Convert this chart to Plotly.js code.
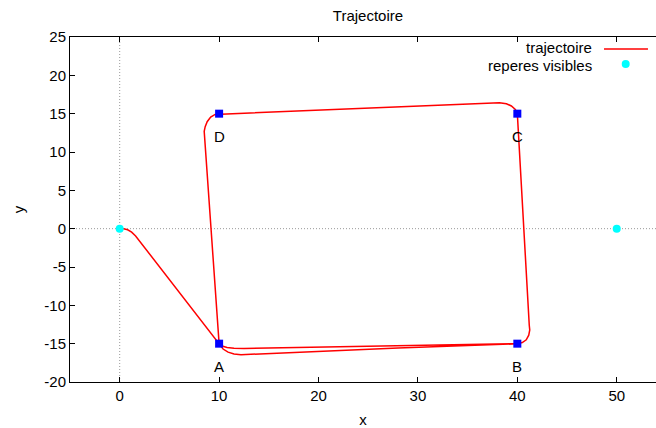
<!DOCTYPE html>
<html>
<head>
<meta charset="utf-8">
<script src="https://cdn.plot.ly/plotly-3.0.1.min.js"></script>
<style>html,body{margin:0;padding:0;background:#fff;}#chart{width:656px;height:428px;}</style>
</head>
<body>
<div id="chart"></div>
<script>
// Trajectory
const trajX = [0, 0.4, 0.8, 1.2, 1.6, 10.0, 10.4, 10.9, 11.5, 12.2, 28.0, 40.0,
  40.5, 40.9, 41.15, 41.25, 41.2, 40.0, 39.8, 39.4, 38.9, 38.2, 10.0,
  9.6, 9.15, 8.8, 8.6, 8.5, 10.0, 10.3, 10.8, 11.5, 12.5, 28.0, 40.0];
const trajY = [0, -0.02, -0.15, -0.45, -0.95, -15.0, -15.7, -16.1, -16.35, -16.45, -15.55, -15.02,
  -14.85, -14.5, -13.9, -13.2, -12.6, 15.0, 15.55, 16.0, 16.3, 16.42, 15.0,
  14.9, 14.55, 13.95, 13.3, 12.7, -15.0, -15.3, -15.5, -15.6, -15.62, -15.3, -15.0];

// Waypoints
const pointX = [10, 40, 40, 10];
const pointY = [-15, -15, 15, 15];
const pointLabels = ['A', 'B', 'C', 'D'];

// Visible landmarks
const repereX = [0, 50];
const repereY = [0, 0];

// Ticks
const xTicks = [0, 10, 20, 30, 40, 50];
const yTicks = [-20, -15, -10, -5, 0, 5, 10, 15, 20, 25];

const seriesNames = ['trajectoire', 'reperes visibles'];

const FONT = 'Liberation Sans, Arial, Helvetica, sans-serif';

const traces = [
  {x: trajX, y: trajY, mode: 'lines', type: 'scatter', name: seriesNames[0],
   line: {color: '#ff0000', width: 1.5}, showlegend: false, hoverinfo: 'skip'},
  {x: repereX, y: repereY, mode: 'markers', type: 'scatter', name: seriesNames[1],
   marker: {color: '#00ffff', size: 8, symbol: 'circle'}, showlegend: false},
  {x: pointX, y: pointY, mode: 'markers', type: 'scatter', name: 'points',
   marker: {color: '#0000ff', size: 8, symbol: 'square'}, showlegend: false}
];

const annotations = pointLabels.map((t, i) => ({
  x: pointX[i], y: pointY[i], xref: 'x', yref: 'y', text: t, showarrow: false,
  yshift: -23, font: {family: FONT, size: 15, color: '#000'}
}));

// custom legend (text right-aligned, sample on the right, as in the reference)
annotations.push({xref: 'paper', yref: 'paper', x: 0.8942, y: (382 - 48) / 345, xanchor: 'right', yanchor: 'middle',
  text: seriesNames[0], showarrow: false, font: {family: FONT, size: 15, color: '#000'}});
annotations.push({xref: 'paper', yref: 'paper', x: 0.8942, y: (382 - 65) / 345, xanchor: 'right', yanchor: 'middle',
  text: seriesNames[1], showarrow: false, font: {family: FONT, size: 15, color: '#000'}});

const shapes = [
  {type: 'line', xref: 'x', yref: 'paper', x0: 0, x1: 0, y0: 0, y1: 1,
   line: {color: '#999999', width: 1, dash: '1px,2px'}, layer: 'below'},
  {type: 'line', xref: 'paper', yref: 'y', x0: 0, x1: 1, y0: 0, y1: 0,
   line: {color: '#999999', width: 1, dash: '1px,2px'}, layer: 'below'},
  {type: 'line', xref: 'paper', yref: 'paper', x0: 0.9113, x1: 0.9863, y0: 0.9652, y1: 0.9652,
   line: {color: '#ff0000', width: 1.5}},
  {type: 'circle', xref: 'paper', yref: 'paper', x0: 0.9415, x1: 0.9551, y0: 0.9101, y1: 0.9333,
   fillcolor: '#00ffff', line: {color: '#00ffff', width: 0}}
];

const layout = {
  width: 656, height: 428,
  margin: {l: 70, r: 0, t: 37, b: 46, pad: 0},
  paper_bgcolor: '#ffffff', plot_bgcolor: '#ffffff',
  font: {family: FONT, size: 15, color: '#000'},
  showlegend: false,
  title: {text: 'Trajectoire', x: 0.5085, xref: 'paper', y: 1 - 16/428, yref: 'container',
          xanchor: 'center', yanchor: 'middle', font: {family: FONT, size: 15, color: '#000'}},
  xaxis: {range: [-5, 53.95], tickvals: xTicks, ticktext: xTicks.map(String),
          ticks: 'inside', ticklen: 5, tickcolor: '#000', tickwidth: 1,
          showline: true, linecolor: '#000', linewidth: 1, mirror: 'ticks',
          showgrid: false, zeroline: false, automargin: false,
          tickfont: {family: FONT, size: 15, color: '#000'},
          title: {text: 'x', font: {family: FONT, size: 15, color: '#000'}, standoff: 12}},
  yaxis: {range: [-20, 25], tickvals: yTicks, ticktext: yTicks.map(String),
          ticks: 'inside', ticklen: 5, tickcolor: '#000', tickwidth: 1,
          showline: true, linecolor: '#000', linewidth: 1, mirror: false,
          showgrid: false, zeroline: false, automargin: false,
          tickfont: {family: FONT, size: 15, color: '#000'},
          title: {text: 'y', font: {family: FONT, size: 15, color: '#000'}, standoff: 16}},
  annotations: annotations,
  shapes: shapes
};

Plotly.newPlot('chart', traces, layout, {staticPlot: true, displayModeBar: false});
</script>
</body>
</html>
